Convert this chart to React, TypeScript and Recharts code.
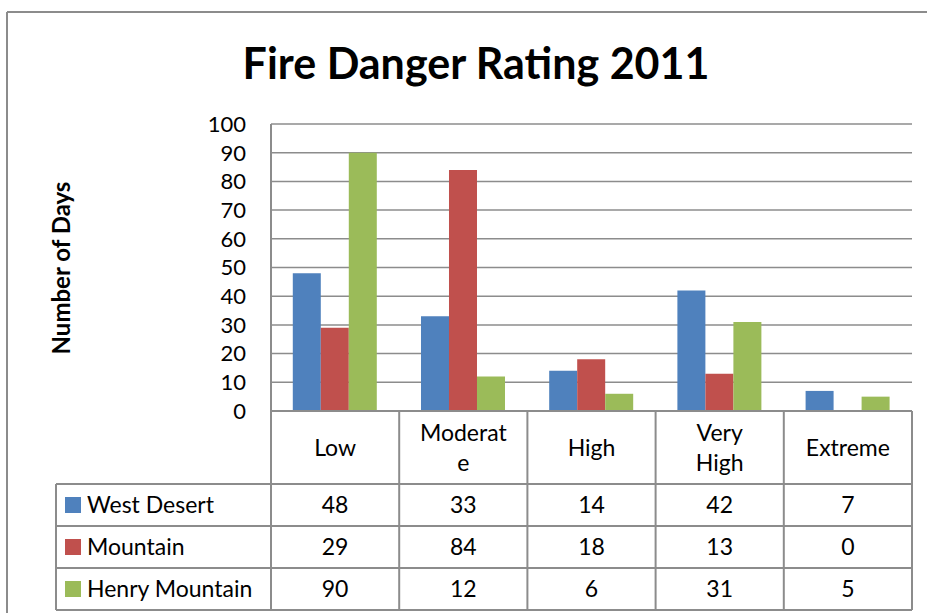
import React from 'react';
import { BarChart, Bar, XAxis, YAxis, CartesianGrid } from 'recharts';

const CATEGORIES = ['Low', 'Moderate', 'High', 'Very High', 'Extreme'];
// how Excel wrapped the header cells of the data table
const CATEGORY_LINES = [['Low'], ['Moderat', 'e'], ['High'], ['Very', 'High'], ['Extreme']];
const WEST_DESERT = [48, 33, 14, 42, 7];
const MOUNTAIN = [29, 84, 18, 13, 0];
const HENRY_MOUNTAIN = [90, 12, 6, 31, 5];
const Y_TICKS = [0, 10, 20, 30, 40, 50, 60, 70, 80, 90, 100];

const SERIES = [
  { key: 'westDesert', name: 'West Desert', values: WEST_DESERT, color: '#4F81BD' },
  { key: 'mountain', name: 'Mountain', values: MOUNTAIN, color: '#C0504D' },
  { key: 'henryMountain', name: 'Henry Mountain', values: HENRY_MOUNTAIN, color: '#9BBB59' },
];

const data = CATEGORIES.map((name, i) => {
  const row: Record<string, string | number> = { name };
  SERIES.forEach((s) => {
    row[s.key] = s.values[i];
  });
  return row;
});

const W = 927;
const H = 613;
const PLOT_LEFT = 271;
const PLOT_RIGHT = 912;
const PLOT_TOP = 124;
const PLOT_BOTTOM = 411;
const HEADER_BOTTOM = 484;
const ROW_H = 42;
const LEGEND_LEFT = 56;
const GRID = '#8c8c8c';
const FONT = 'Lato, "Open Sans", sans-serif';
const TEXT_SIZE = 23;

const DataTable = () => {
  const colW = (PLOT_RIGHT - PLOT_LEFT) / CATEGORIES.length;
  const tableBottom = HEADER_BOTTOM + ROW_H * SERIES.length;
  return (
    <svg width={W} height={H} style={{ position: 'absolute', left: 0, top: 0, pointerEvents: 'none' }}>
      {/* outer chart border */}
      <line x1={7} y1={12} x2={W} y2={12} stroke={GRID} strokeWidth={2} />
      <line x1={7} y1={12} x2={7} y2={H} stroke={GRID} strokeWidth={2} />

      <text x={476} y={79} textAnchor="middle" fontFamily={FONT} fontWeight={700} fontSize={43} fill="#000">
        Fire Danger Rating 2011
      </text>
      <text
        transform="translate(70,268) rotate(-90)"
        textAnchor="middle"
        fontFamily={FONT}
        fontWeight={700}
        fontSize={24}
        fill="#000"
      >
        Number of Days
      </text>

      {/* header row */}
      {CATEGORY_LINES.map((lines, i) => {
        const cx = PLOT_LEFT + colW * (i + 0.5);
        const cy = (PLOT_BOTTOM + HEADER_BOTTOM) / 2;
        const start = cy - ((lines.length - 1) * 30) / 2;
        return lines.map((ln, j) => (
          <text
            key={`${i}-${j}`}
            x={cx}
            y={start + j * 30}
            dy="0.35em"
            textAnchor="middle"
            fontFamily={FONT}
            fontSize={TEXT_SIZE}
            fill="#000"
          >
            {ln}
          </text>
        ));
      })}

      {/* series rows */}
      {SERIES.map((s, r) => {
        const cy = HEADER_BOTTOM + ROW_H * (r + 0.5);
        return (
          <g key={s.key}>
            <rect x={65} y={cy - 8} width={16} height={16} fill={s.color} />
            <text x={87} y={cy} dy="0.35em" fontFamily={FONT} fontSize={TEXT_SIZE} fill="#000">
              {s.name}
            </text>
            {s.values.map((v, i) => (
              <text
                key={i}
                x={PLOT_LEFT + colW * (i + 0.5)}
                y={cy}
                dy="0.35em"
                textAnchor="middle"
                fontFamily={FONT}
                fontSize={TEXT_SIZE}
                fill="#000"
              >
                {v}
              </text>
            ))}
          </g>
        );
      })}

      {/* table grid */}
      <line x1={PLOT_LEFT} y1={PLOT_BOTTOM} x2={PLOT_RIGHT} y2={PLOT_BOTTOM} stroke={GRID} strokeWidth={2} />
      {SERIES.map((s, r) => (
        <line
          key={s.key}
          x1={LEGEND_LEFT}
          y1={HEADER_BOTTOM + ROW_H * r}
          x2={PLOT_RIGHT}
          y2={HEADER_BOTTOM + ROW_H * r}
          stroke={GRID}
          strokeWidth={2}
        />
      ))}
      <line x1={LEGEND_LEFT} y1={tableBottom} x2={PLOT_RIGHT} y2={tableBottom} stroke={GRID} strokeWidth={2} />
      <line x1={LEGEND_LEFT} y1={HEADER_BOTTOM} x2={LEGEND_LEFT} y2={tableBottom} stroke={GRID} strokeWidth={2} />
      {CATEGORIES.map((c, i) => (
        <line
          key={c}
          x1={PLOT_LEFT + colW * i}
          y1={PLOT_BOTTOM}
          x2={PLOT_LEFT + colW * i}
          y2={tableBottom}
          stroke={GRID}
          strokeWidth={2}
        />
      ))}
      <line x1={PLOT_RIGHT} y1={PLOT_BOTTOM} x2={PLOT_RIGHT} y2={tableBottom} stroke={GRID} strokeWidth={2} />
    </svg>
  );
};

export default function App() {
  return (
    <div style={{ position: 'absolute', left: 0, top: 0, width: W, height: H, background: '#fff', overflow: 'hidden' }}>
      <BarChart
        width={W}
        height={H}
        data={data}
        margin={{ top: PLOT_TOP, right: W - PLOT_RIGHT, bottom: H - PLOT_BOTTOM, left: PLOT_LEFT - 60 }}
        barCategoryGap="17%"
        barGap={0}
      >
        <CartesianGrid vertical={false} stroke={GRID} strokeWidth={1.5} />
        <XAxis dataKey="name" height={0} tick={false} tickLine={false} axisLine={false} />
        <YAxis
          width={60}
          domain={[0, 100]}
          ticks={Y_TICKS}
          interval={0}
          tickLine={false}
          tickSize={0}
          tickMargin={25}
          axisLine={{ stroke: GRID, strokeWidth: 2 }}
          tick={{ fill: '#000', fontSize: 22, fontFamily: FONT }}
        />
        {SERIES.map((s) => (
          <Bar key={s.key} dataKey={s.key} name={s.name} fill={s.color} isAnimationActive={false} />
        ))}
      </BarChart>
      <DataTable />
    </div>
  );
}
